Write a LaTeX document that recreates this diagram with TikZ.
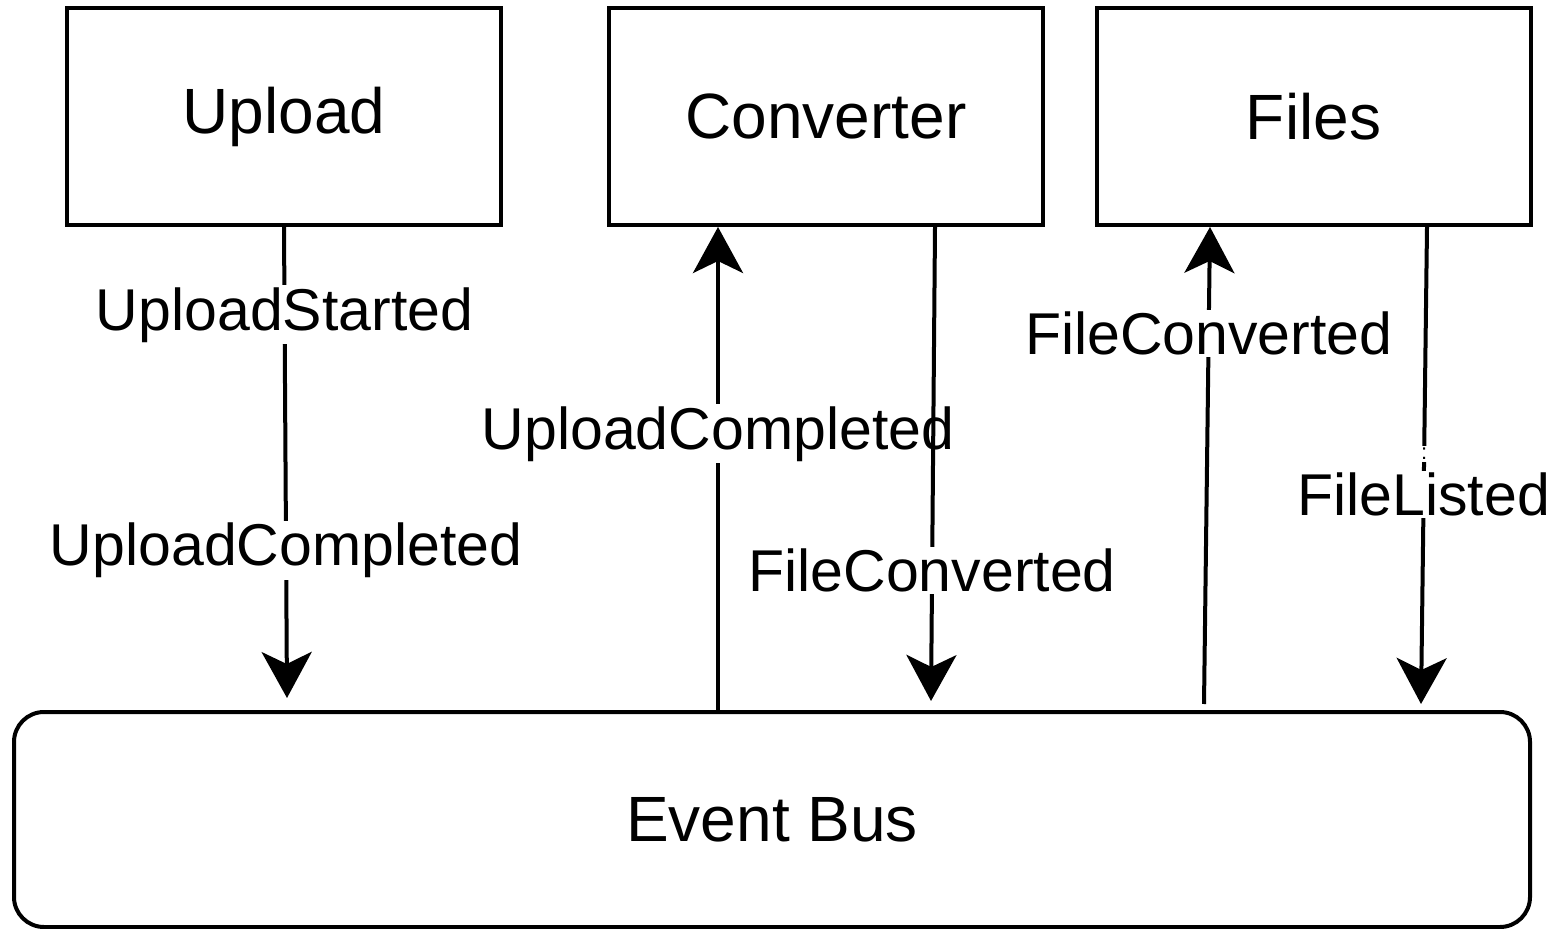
\documentclass[tikz,border=0pt]{standalone}
\usepackage{fontspec}
\setmainfont{Liberation Sans}
\usetikzlibrary{arrows.meta,calc}

\begin{document}
\begin{tikzpicture}[line cap=butt,line join=miter,x=0.5pt,y=-0.5pt,
	box/.style={draw,line width=2pt,minimum width=217pt,minimum height=108.5pt,font=\fontsize{32}{38}\selectfont},
	bus/.style={draw,line width=2pt,rounded corners=15pt,minimum width=758pt,minimum height=107.5pt,font=\fontsize{32}{38}\selectfont},
	evt/.style={fill=white,inner sep=1pt,yshift=-1.5pt,font=\fontsize{29.5}{34}\selectfont},
	flow/.style={line width=2pt,-{Stealth[length=23pt,width=25pt,inset=6pt]}}]
	\useasboundingbox (0,0) rectangle (1557,929);
	% services
	\node[box] (upload) at (284,116.5) {Upload};
	\node[box] (conv) at (826,116.5) {Converter};
	\node[box] (files) at (1313.5,116.5) {Files};
	\node[bus] (bus) at (772,819.5) {Event Bus};
	% ends of the connectors
	\coordinate (upTip) at ($(bus.north)+(-485,-12)$);
	\coordinate (convFrom) at ($(bus.north)+(-54,0)$);
	\coordinate (convTo) at ($(conv.south)+(-108,0)$);
	\coordinate (convOut) at ($(conv.south)+(109,0)$);
	\coordinate (convTip) at ($(bus.north)+(159,-9)$);
	\coordinate (filesFrom) at ($(bus.north)+(432,-6)$);
	\coordinate (filesTo) at ($(files.south)+(-103.5,0)$);
	\coordinate (filesOut) at ($(files.south)+(113.5,0)$);
	\coordinate (filesTip) at ($(bus.north)+(649,-6)$);
	% events
	\draw[flow] (upload.south) -- (upTip)
		node[evt,pos=0.18] {UploadStarted}
		node[evt,pos=0.68] {UploadCompleted};
	\draw[flow] (convFrom) -- (convTo)
		node[evt,pos=0.578] {UploadCompleted};
	\draw[flow] (convOut) -- (convTip)
		node[evt,pos=0.718] {FileConverted};
	\draw[flow] (filesFrom) -- (filesTo)
		node[evt,pos=0.783] {FileConverted};
	\draw[flow] (filesOut) -- (filesTip)
		node[evt,pos=0.47,font=\fontsize{11}{12}\selectfont] {:}
		node[evt,pos=0.555] {FileListed};
\end{tikzpicture}
\end{document}
